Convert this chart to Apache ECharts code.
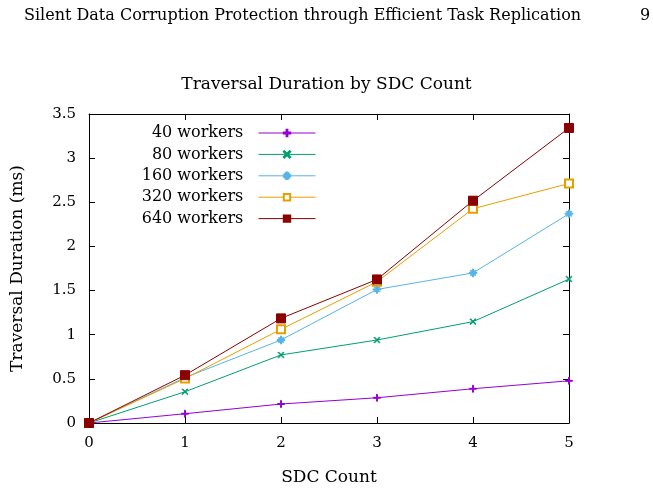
<!DOCTYPE html>
<html>
<head>
<meta charset="utf-8">
<script src="https://cdn.jsdelivr.net/npm/echarts@6/dist/echarts.min.js"></script>
<style>
  html, body { margin: 0; padding: 0; background: #fff; }
  #chart { width: 653px; height: 491px; }
</style>
</head>
<body>
<div id="chart"></div>
<script>
var sdcCounts = [0, 1, 2, 3, 4, 5];
var workers40 = [0, 0.105, 0.215, 0.286, 0.388, 0.478];
var workers80 = [0, 0.354, 0.771, 0.94, 1.148, 1.63];
var workers160 = [0, 0.515, 0.94, 1.513, 1.70, 2.37];
var workers320 = [0, 0.504, 1.061, 1.60, 2.427, 2.713];
var workers640 = [0, 0.542, 1.185, 1.626, 2.518, 3.342];
var seriesNames = ['40 workers', '80 workers', '160 workers', '320 workers', '640 workers'];
var yTicks = [0, 0.5, 1, 1.5, 2, 2.5, 3, 3.5];

var font = 'DejaVu Serif';
var plusPath = 'path://M3.5,0H4.5V3.5H8V4.5H4.5V8H3.5V4.5H0V3.5H3.5Z';
var crossPath = 'path://M0,0.7L0.7,0L8,7.3L7.3,8ZM8,0.7L7.3,0L0,7.3L0.7,8Z';
var starPath = 'path://M3.5,0H4.5V3.5H8V4.5H4.5V8H3.5V4.5H0V3.5H3.5ZM1.2,1.9L1.9,1.2L6.8,6.1L6.1,6.8ZM6.8,1.9L6.1,1.2L1.2,6.1L1.9,6.8Z';

var chart = echarts.init(document.getElementById('chart'), null, { renderer: 'canvas' });

function pairs(vals) {
  return sdcCounts.map(function (x, i) { return [x, vals[i]]; });
}

function line(name, vals, color, symbol, size) {
  return {
    name: name,
    type: 'line',
    data: pairs(vals),
    symbol: symbol,
    symbolSize: size,
    showAllSymbol: true,
    lineStyle: { color: color, width: 1 },
    itemStyle: { color: color, borderColor: color, borderWidth: 1 },
    emphasis: { disabled: true },
    z: 2
  };
}

function txt(size) {
  return { fontFamily: font, fontSize: size, fontWeight: 'normal', color: '#000' };
}

var option = {
  animation: false,
  backgroundColor: '#fff',
  title: [
    { text: 'Traversal Duration by SDC Count', left: 'center', top: 71, textStyle: txt(17) },
    { text: 'Silent Data Corruption Protection through Efficient Task Replication', left: 19, top: 3, textStyle: txt(16) },
    { text: '9', left: 635, top: 3, textStyle: txt(16) }
  ],
  grid: { left: 89, right: 84, top: 114, bottom: 67, containLabel: false },
  legend: {
    orient: 'vertical',
    right: 332,
    top: 120,
    align: 'right',
    itemWidth: 57,
    itemHeight: 8,
    itemGap: 5.4,
    data: seriesNames,
    formatter: function (n) { return n + '  '; },
    lineStyle: { width: 1 },
    textStyle: txt(16),
    selectedMode: false
  },
  xAxis: [
    { type: 'value', min: 0, max: 5, interval: 1, position: 'bottom',
      name: 'SDC Count', nameLocation: 'middle', nameGap: 46, nameTextStyle: txt(17),
      axisLine: { show: true, onZero: false, lineStyle: { color: '#000', width: 1 } },
      axisTick: { show: true, inside: true, length: 6, lineStyle: { color: '#000' } },
      axisLabel: Object.assign({ margin: 13 }, txt(15)),
      splitLine: { show: false } },
    { type: 'value', min: 0, max: 5, interval: 1, position: 'top',
      axisLine: { show: true, onZero: false, lineStyle: { color: '#000', width: 1 } },
      axisTick: { show: true, inside: true, length: 6, lineStyle: { color: '#000' } },
      axisLabel: { show: false }, splitLine: { show: false } }
  ],
  yAxis: [
    { type: 'value', min: yTicks[0], max: yTicks[yTicks.length - 1], interval: 0.5, position: 'left',
      name: 'Traversal Duration (ms)', nameLocation: 'middle', nameGap: 63, nameRotate: 90,
      nameTextStyle: txt(17),
      axisLine: { show: true, onZero: false, lineStyle: { color: '#000', width: 1 } },
      axisTick: { show: true, inside: true, length: 6, lineStyle: { color: '#000' } },
      axisLabel: Object.assign({ margin: 13 }, txt(15)),
      splitLine: { show: false } },
    { type: 'value', min: yTicks[0], max: yTicks[yTicks.length - 1], interval: 0.5, position: 'right',
      axisLine: { show: true, onZero: false, lineStyle: { color: '#000', width: 1 } },
      axisTick: { show: true, inside: true, length: 6, lineStyle: { color: '#000' } },
      axisLabel: { show: false }, splitLine: { show: false } }
  ],
  series: [
    line(seriesNames[0], workers40, '#9400d3', plusPath, 7),
    line(seriesNames[1], workers80, '#009e73', crossPath, 6),
    line(seriesNames[2], workers160, '#56b4e9', starPath, 8),
    line(seriesNames[3], workers320, '#e69f00', 'emptyRect', 8),
    line(seriesNames[4], workers640, '#8b0000', 'rect', 9)
  ]
};

chart.setOption(option);
</script>
</body>
</html>
